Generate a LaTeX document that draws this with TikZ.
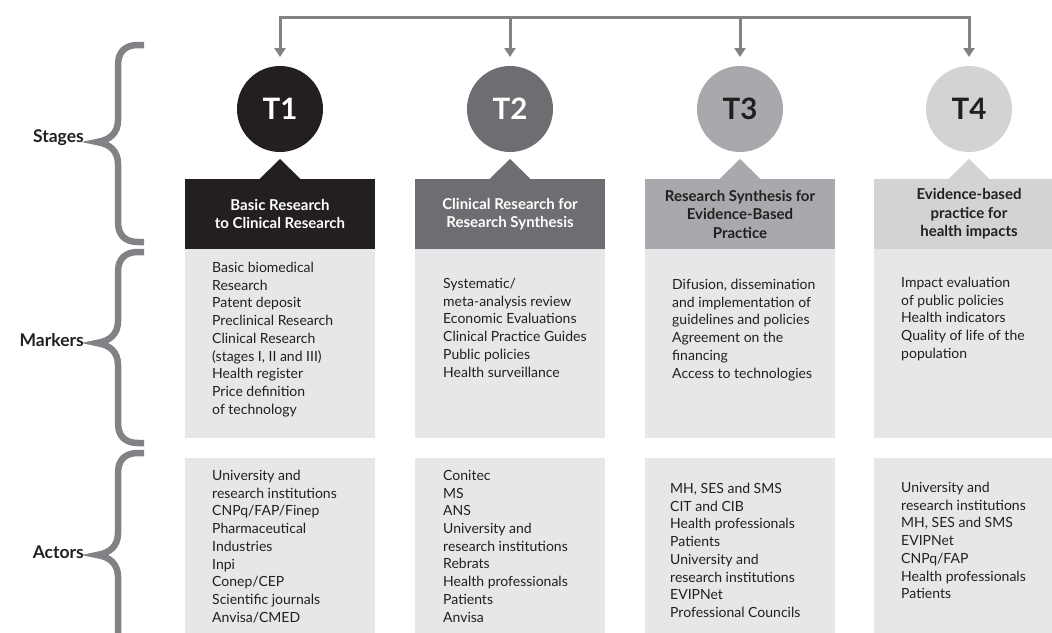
\documentclass[tikz,border=0pt]{standalone}
\usepackage{fontspec}
\setmainfont{Lato}
\usetikzlibrary{arrows.meta}
\definecolor{cdark}{HTML}{231F20}
\definecolor{ctwo}{HTML}{6D6E71}
\definecolor{cthree}{HTML}{A7A9AC}
\definecolor{cfour}{HTML}{D1D3D4}
\definecolor{clight}{HTML}{E6E7E8}
\definecolor{cgrey}{HTML}{808285}
\begin{document}
\begin{tikzpicture}[x=1pt,y=-1pt,
  conn/.style={draw=cgrey,line width=3pt},
  tipped/.style={conn,-{Triangle[width=11pt,length=9pt]},shorten >=9pt},
  brace/.style={draw=cgrey,line width=6.5pt,line join=miter},
  stagecircle/.style={circle,minimum size=86pt,inner sep=0pt,outer sep=0pt,
    font=\fontsize{29.5}{32}\selectfont\bfseries},
  headbox/.style={rectangle,minimum width=190pt,minimum height=70pt,inner sep=0pt,
    outer sep=0pt,anchor=north,align=center,font=\fontsize{15}{18.5}\selectfont\bfseries},
  markbox/.style={rectangle,fill=clight,minimum width=190pt,minimum height=189pt,
    inner sep=0pt,outer sep=0pt,anchor=north},
  actbox/.style={rectangle,fill=clight,minimum width=190pt,minimum height=200pt,
    inner sep=0pt,outer sep=0pt,anchor=north},
  listtext/.style={anchor=north west,inner sep=0pt,align=left,text=cdark,
    font=\fontsize{14}{17.7}\selectfont},
  rowlabel/.style={anchor=east,inner sep=0pt,text=cdark,
    font=\fontsize{17.5}{20}\selectfont\bfseries}
]
\useasboundingbox (0,0) rectangle (1052,632);
\clip (0,0) rectangle (1052,632);

% top connector
\coordinate (c1) at (280,17);
\coordinate (c2) at (510,17);
\coordinate (c3) at (740,17);
\coordinate (c4) at (969,17);

% circles
\node[stagecircle,fill=cdark,text=white] (t1) at (280,109) {T1};
\node[stagecircle,fill=ctwo,text=white] (t2) at (510,109) {T2};
\node[stagecircle,fill=cthree,text=cdark] (t3) at (740,109) {T3};
\node[stagecircle,fill=cfour,text=cdark] (t4) at (969,109) {T4};

\draw[conn,line cap=rect] (c1) -- (c4);
\foreach \i in {1,...,4} \draw[tipped] (c\i) -- (t\i.north);

% headers
\node[headbox,fill=cdark,text=white] (h1) at (280,179) {Basic Research\\to Clinical Research};
\node[headbox,fill=ctwo,text=white] (h2) at (510,179) {Clinical Research for\\Research Synthesis};
\node[headbox,fill=cthree,text=cdark] (h3) at (740,179) {Research Synthesis for\\Evidence-Based\\Practice};
\node[headbox,fill=cfour,text=cdark] (h4) at (969,179) {Evidence-based\\practice for\\health impacts};
\fill[cdark] ([shift={(-21,0.5)}]h1.north) -- ++(21,-20.5) -- ++(21,20.5) -- cycle;
\fill[ctwo] ([shift={(-21,0.5)}]h2.north) -- ++(21,-20.5) -- ++(21,20.5) -- cycle;
\fill[cthree] ([shift={(-21,0.5)}]h3.north) -- ++(21,-20.5) -- ++(21,20.5) -- cycle;
\fill[cfour] ([shift={(-21,0.5)}]h4.north) -- ++(21,-20.5) -- ++(21,20.5) -- cycle;

% markers boxes
\node[markbox] (m1) at (280,249) {};
\node[markbox] (m2) at (510,249) {};
\node[markbox] (m3) at (740,249) {};
\node[markbox] (m4) at (969,249) {};
\node[listtext] (m1t) at (212,262) {Basic biomedical\\Research\\Patent deposit\\Preclinical Research\\Clinical Research\\(stages I, II and III)\\Health register\\Price definition\\of technology};
\node[listtext] (m2t) at (443,278) {Systematic/\\meta-analysis review\\Economic Evaluations\\Clinical Practice Guides\\Public policies\\Health surveillance};
\node[listtext] (m3t) at (672,279) {Difusion, dissemination\\and implementation of\\guidelines and policies\\Agreement on the\\financing\\Access to technologies};
\node[listtext] (m4t) at (901,277) {Impact evaluation\\of public policies\\Health indicators\\Quality of life of the\\population};

% actors boxes
\node[actbox] (a1) at (280,458) {};
\node[actbox] (a2) at (510,458) {};
\node[actbox] (a3) at (740,458) {};
\node[actbox] (a4) at (969,458) {};
\node[listtext] (a1t) at (212,470) {University and\\research institutions\\CNPq/FAP/Finep\\Pharmaceutical\\Industries\\Inpi\\Conep/CEP\\Scientific journals\\Anvisa/CMED};
\node[listtext] (a2t) at (443,470) {Conitec\\MS\\ANS\\University and\\research institutions\\Rebrats\\Health professionals\\Patients\\Anvisa};
\node[listtext] (a3t) at (670,483) {MH, SES and SMS\\CIT and CIB\\Health professionals\\Patients\\University and\\research institutions\\EVIPNet\\Professional Councils};
\node[listtext] (a4t) at (901,482) {University and\\research institutions\\MH, SES and SMS\\EVIPNet\\CNPq/FAP\\Health professionals\\Patients};

% braces
\draw[brace] (144,45) -- (138,45) .. controls (125,45) and (118,52) .. (118,65)
  -- (118,120) .. controls (118,133) and (110,140) .. (97,142)
  .. controls (110,144) and (118,151) .. (118,164)
  -- (118,222) .. controls (118,235) and (125,242) .. (138,242) -- (144,242);
\draw[brace] (144,252) -- (138,252) .. controls (125,252) and (118,259) .. (118,272)
  -- (118,321) .. controls (118,334) and (110,341) .. (97,343)
  .. controls (110,345) and (118,352) .. (118,365)
  -- (118,423) .. controls (118,436) and (125,443) .. (138,443) -- (144,443);
\draw[brace] (144,453) -- (138,453) .. controls (125,453) and (118,460) .. (118,473)
  -- (118,533) .. controls (118,546) and (110,553) .. (97,555)
  .. controls (110,557) and (118,564) .. (118,577) -- (118,700);

\node[rowlabel] (ls) at (84,138) {Stages};
\node[rowlabel] (lm) at (84,340) {Markers};
\node[rowlabel] (la) at (84,552) {Actors};
\end{tikzpicture}
\end{document}
